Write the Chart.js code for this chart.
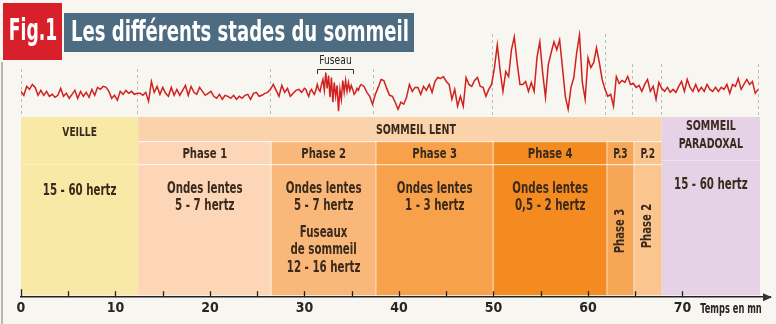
<!DOCTYPE html>
<html><head><meta charset="utf-8">
<style>html,body{margin:0;padding:0;background:#f8f6f1;overflow:hidden}canvas{display:block}</style>
<script src="https://cdn.jsdelivr.net/npm/chart.js@4.4.1/dist/chart.umd.min.js"></script>
</head><body><canvas id="c" width="776" height="324"></canvas>
<script>
const FONT = '"Liberation Sans Narrow","DejaVu Sans Condensed",sans-serif';
const figLabel = 'Fig.1';
const titleText = 'Les différents stades du sommeil';
const axisTitle = 'Temps en mn';
const fuseauLabel = 'Fuseau';
const fuseauRange = [31.3, 35.1];

// EEG trace (amplitude, arbitrary units, up = positive)
const eegSeg1Start = 0, eegSeg1Step = 0.3;
const eegSeg1 = [1,-3,6,3,8,5,-3,2,-3,1,-4,-2,-5,-3,4,-4,-1,-6,-2,2,-6,1,-4,0,-5,3,-3,5,3,6,5,1,-6,-3,-8,1,-2,2,-1,1,-2,-1,
  -1,-3,0,-9,11,0,6,-2,5,-1,-4,5,-3,3,-3,2,7,-3,6,0,-2,5,1,-3,-1,1,-4,-6,-2,-7,-3,-4,-6,-3,-7,-4,-6,-3,-2,-7,-1,0,-4,-3,-1,0,3,
  8,2,-4,7,0,4,-4,-1,2,3,0,4];
const eegFuseauStart = 30.15, eegFuseauStep = 0.15;
const eegFuseau = [3,-1,-4,1,3,0,-2,2,8,3,1,8,13,2,20,4,17,-5,15,-10,10,-4,7,-19,3,-7,12,0,12,1,10,2,7,3,-2,0,4,2,6,8];
const eegSeg3Start = 36.3, eegSeg3Step = 0.3;
const eegSeg3 = [6,0,-4,-12,-2,5,13,12,4,-3,
  -4,-10,-17,-10,-12,-5,8,1,5,5,
  -2,6,2,8,0,11,15,14,16,11,
  8,-7,3,-14,-4,-14,15,8,6,12,
  15,6,5,-4,3,8,25,48,22,1,
  21,16,43,56,30,8,8,11,1,10,
  1,35,51,20,-5,28,40,51,43,53,
  25,-4,-17,5,15,40,58,10,-7,35,
  25,30,45,30,13,3,-4,-2,-14,16,
  9,12,10,16,8,9,5,7,1,8,
  13,1,6,-7,10,4,1,5,0,3,
  0,6,11,1,13,5,1,8,1,5,
  1,8,3,1,5,1,5,3,8,-1,
  8,6,14,3,8,13,8,11,-1,3];

// Stages (minutes)
const stageStart = [0, 12.4, 26.5, 37.55, 50.0, 62.0, 64.86, 67.8];
const stageEnd   = [12.4, 26.5, 37.55, 50.0, 62.0, 64.86, 67.8, 78.2];
const stageColor = ['#f9e9a6','#fcd6b6','#f9b779','#f8a14b','#f38b20','#f6a657','#fac58f','#e6d2e7'];
const stageHeader = [null,'Phase 1','Phase 2','Phase 3','Phase 4','P.3','P.2',null];
const stageBody = [['15 - 60 hertz'],['Ondes lentes','5 - 7 hertz'],['Ondes lentes','5 - 7 hertz'],['Ondes lentes','1 - 3 hertz'],['Ondes lentes','0,5 - 2 hertz'],[],[],['15 - 60 hertz']];
const stageExtra = [[],[],['Fuseaux','de sommeil','12 - 16 hertz'],[],[],[],[],[]];
const stageVertical = [null,null,null,null,null,'Phase 3','Phase 2',null];
const groupLabel = ['VEILLE','SOMMEIL LENT','SOMMEIL|PARADOXAL'];
const groupFrom = [0, 1, 7];
const groupTo = [0, 6, 7];
const lentBandColor = '#fad3ab';
const dashAt = [0, 12.3, 26.3, 37.3, 49.8, 61.8, 64.7, 67.7, 78.0];

function seg(start, step, vals){ return vals.map((v,i)=>({x: +(start+i*step).toFixed(2), y: v})); }
const eegPoints = [].concat(seg(eegSeg1Start,eegSeg1Step,eegSeg1), seg(eegFuseauStart,eegFuseauStep,eegFuseau), seg(eegSeg3Start,eegSeg3Step,eegSeg3));

const TXT = '#3a2a1c';
function text(ctx, s, x, y, size, opts){
  opts = opts || {};
  ctx.save();
  ctx.font = (opts.weight||'bold') + ' ' + size + 'px ' + FONT;
  ctx.fillStyle = opts.color || TXT;
  ctx.textAlign = opts.align || 'center';
  ctx.textBaseline = 'middle';
  ctx.translate(x,y);
  if (opts.rotate) ctx.rotate(opts.rotate);
  ctx.scale(opts.sx || 0.8, opts.sy || 1);
  if (opts.maxW) ctx.fillText(s, 0, 0, opts.maxW / (opts.sx || 0.8)); else ctx.fillText(s, 0, 0);
  ctx.restore();
}

const stagePlugin = {
  id: 'stages',
  beforeDraw(chart){
    const ctx = chart.ctx, xs = chart.scales.x, ca = chart.chartArea;
    const px = v => xs.getPixelForValue(v);
    ctx.save();
    ctx.fillStyle = '#f8f6f1';
    ctx.fillRect(0,0,chart.width,chart.height);
    const top = 117, hb = 141, pb = 164, bot = ca.bottom - 2;
    // dashed boundaries in EEG area
    ctx.strokeStyle = '#bcbcbc'; ctx.lineWidth = 1; ctx.setLineDash([3,3]);
    dashAt.forEach((t,i)=>{
      const x = Math.round(px(t))+0.5;
      const y0 = (i===4||i===5) ? 34 : (i>=6 ? 64 : 69);
      ctx.beginPath(); ctx.moveTo(x,y0); ctx.lineTo(x,top); ctx.stroke();
    });
    ctx.setLineDash([]);
    // slow sleep band
    ctx.fillStyle = lentBandColor;
    ctx.fillRect(px(stageStart[1]), top, px(stageEnd[6])-px(stageStart[1]), hb-top);
    stageStart.forEach((s,i)=>{
      const x0 = px(s), x1 = px(stageEnd[i]);
      const y0 = (i===0||i===7) ? top : hb;
      ctx.fillStyle = stageColor[i];
      ctx.fillRect(x0, y0, x1-x0, bot-y0);
    });
    // separators
    ctx.fillStyle = 'rgba(255,255,255,0.75)';
    ctx.fillRect(px(stageStart[1]), hb, px(stageEnd[6])-px(stageStart[1]), 1.2);
    ctx.fillRect(px(stageStart[1]), pb, px(stageEnd[6])-px(stageStart[1]), 1.2);
    ctx.fillStyle = 'rgba(255,255,255,0.35)';
    ctx.fillRect(px(stageStart[0]), pb, px(stageEnd[0])-px(stageStart[0]), 1);
    ctx.fillRect(px(stageStart[7]), 160, px(stageEnd[7])-px(stageStart[7]), 1);
    ctx.fillStyle = 'rgba(255,255,255,0.6)';
    for (let i=2;i<=6;i++){ ctx.fillRect(Math.round(px(stageStart[i]))-0.5, hb, 1, bot-hb); }
    // group labels
    const gx = i => (px(stageStart[groupFrom[i]]) + px(stageEnd[groupTo[i]]))/2;
    text(ctx, groupLabel[0], gx(0), 133, 13, {sx: 0.78});
    text(ctx, groupLabel[1], gx(1)+16, 130, 13.5, {sx: 0.78});
    const pl = groupLabel[2].split('|');
    text(ctx, pl[0], gx(2), 126, 13.5, {sx: 0.78});
    text(ctx, pl[1], gx(2), 144, 13.5, {sx: 0.78});
    // headers & bodies
    stageStart.forEach((s,i)=>{
      const cx = (px(s)+px(stageEnd[i]))/2;
      if (stageHeader[i]) text(ctx, stageHeader[i], cx, 154, 14, {sx: i>=5 ? 0.72 : 0.8});
      const by = (i===0) ? 191 : (i===7 ? 185 : 189);
      stageBody[i].forEach((l,j)=> text(ctx, l, cx, by + j*17, 15, {sx: 0.76}));
      stageExtra[i].forEach((l,j)=> text(ctx, l, cx, 233 + j*17.5, 15, {sx: 0.76}));
      if (stageVertical[i]) text(ctx, stageVertical[i], cx, i===5 ? 231 : 226, 14, {rotate: -Math.PI/2, sx: 0.8});
    });
    ctx.restore();
  },
  afterDraw(chart){
    const ctx = chart.ctx, xs = chart.scales.x, ca = chart.chartArea;
    const px = v => xs.getPixelForValue(v);
    ctx.save();
    // tick marks pointing up
    ctx.strokeStyle = '#222'; ctx.lineWidth = 1.3;
    xs.ticks.forEach(t=>{
      if (t.value > 70) return;
      const x = Math.round(px(t.value))+0.5;
      ctx.beginPath(); ctx.moveTo(x, ca.bottom); ctx.lineTo(x, ca.bottom - (t.value===0 ? 8 : 6)); ctx.stroke();
    });
    // arrow head
    const ax = ca.right, ay = ca.bottom;
    ctx.fillStyle = '#333';
    ctx.beginPath(); ctx.moveTo(ax+2, ay); ctx.lineTo(ax-7, ay-4); ctx.lineTo(ax-7, ay+4); ctx.closePath(); ctx.fill();
    text(ctx, axisTitle, 731, 309, 14, {color:'#262626', sx: 0.66, sy: 1.05});
    // fuseau label & bracket
    const f0 = Math.round(px(fuseauRange[0]))+0.5, f1 = Math.round(px(fuseauRange[1]))+0.5;
    text(ctx, fuseauLabel, (f0+f1)/2, 61, 12, {weight:'normal', color:'#222', sx: 0.85});
    ctx.strokeStyle = '#333'; ctx.lineWidth = 1;
    ctx.beginPath(); ctx.moveTo(f0, 74); ctx.lineTo(f0, 69.5); ctx.lineTo(f1, 69.5); ctx.lineTo(f1, 74); ctx.stroke();
    // title
    ctx.fillStyle = '#d8202a'; ctx.fillRect(3, 3, 59, 57);
    ctx.fillStyle = '#4e6c81'; ctx.fillRect(64, 13, 350, 39);
    text(ctx, figLabel, 33, 32, 29, {color:'#fff', sx: 0.66, sy: 1.05});
    text(ctx, titleText, 240, 34, 28, {color:'#fff', sx: 0.78, sy: 1.02, maxW: 338});
    // left page edge
    ctx.fillStyle = '#b9b7b2'; ctx.fillRect(1, 62, 2, 262);
    ctx.restore();
  }
};

new Chart(document.getElementById('c'), {
  type: 'line',
  data: { datasets: [{ data: eegPoints, borderColor: '#d1211e', borderWidth: 1.5, pointRadius: 0, tension: 0, fill: false }] },
  options: {
    responsive: false, animation: false, devicePixelRatio: 1,
    layout: { padding: { left: 21, right: 6, top: 30, bottom: 4 } },
    plugins: { legend: {display:false}, tooltip: {enabled:false} },
    scales: {
      x: { type: 'linear', min: 0, max: 79.26,
           grid: { display: true, drawOnChartArea: false, drawTicks: false },
           border: { display: true, color: '#222', width: 1.5 },
           ticks: { stepSize: 5, includeBounds: false, autoSkip: false, maxRotation: 0, padding: 3, color: '#262626',
                    font: { family: FONT, size: 14, weight: 'bold' },
                    callback: v => (v % 10 === 0 ? String(v) : '') } },
      y: { display: false, min: -207, max: 63 }
    }
  },
  plugins: [stagePlugin]
});
</script></body></html>
